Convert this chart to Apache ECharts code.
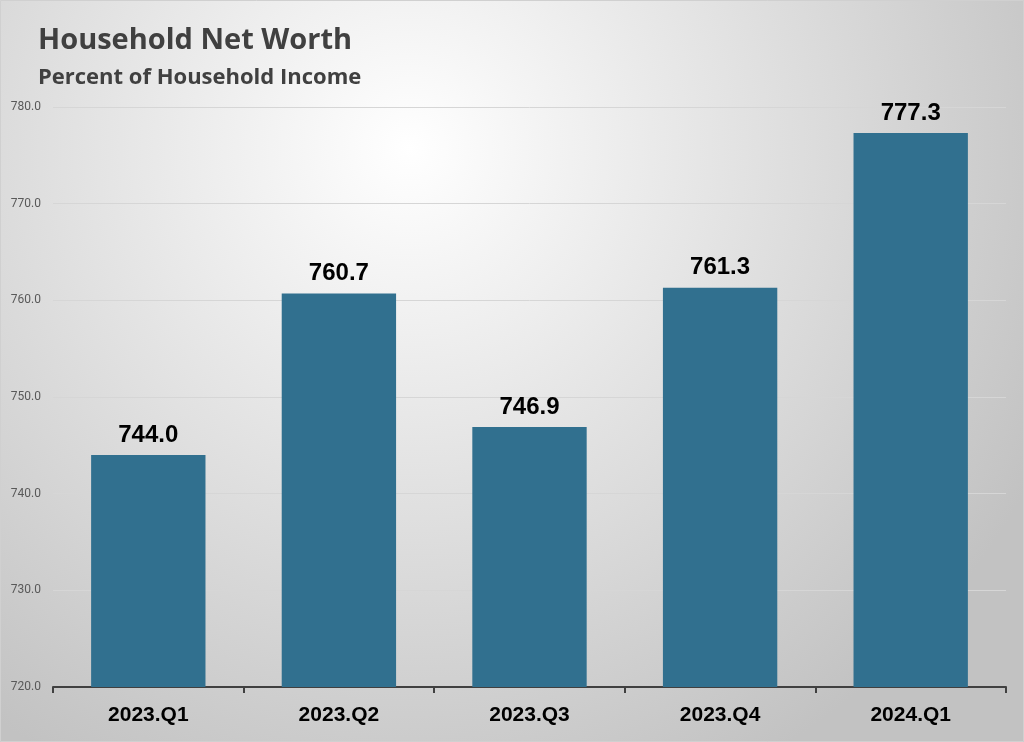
<!DOCTYPE html>
<html><head><meta charset="utf-8">
<script src="https://cdn.jsdelivr.net/npm/echarts@6/dist/echarts.min.js"></script>
<style>html,body{margin:0;padding:0;}#c{width:1024px;height:742px;}</style>
</head><body><div id="c"></div>
<script>
const categories = ['2023.Q1','2023.Q2','2023.Q3','2023.Q4','2024.Q1'];
const values = [744.0, 760.7, 746.9, 761.3, 777.3];
const yMin = 720, yMax = 780, yStep = 10;
const titleText = 'Household Net Worth';
const subtitleText = 'Percent of Household Income';

const chart = echarts.init(document.getElementById('c'));
chart.setOption({
  animation: false,
  backgroundColor: {
    type: 'radial', x: 0.4, y: 0.2, r: 0.95,
    colorStops: [{offset: 0, color: '#ffffff'}, {offset: 1, color: '#c2c2c2'}]
  },
  graphic: [{
    type: 'rect', shape: {x: 0.5, y: 0.5, width: 1023, height: 741},
    style: {fill: 'none', stroke: '#d0d0d0', lineWidth: 1}, silent: true
  }],
  title: [
    {text: titleText, left: 33, top: 26, padding: [0,5], textStyle: {fontFamily: 'Open Sans', fontSize: 29, fontWeight: 'bold', color: '#404040'}},
    {text: subtitleText, left: 33, top: 67, padding: [0,5], textStyle: {fontFamily: 'Open Sans', fontSize: 22, fontWeight: 'bold', color: '#404040'}}
  ],
  grid: {left: 53, right: 18, top: 107, bottom: 55},
  xAxis: {
    type: 'category', data: categories,
    axisLine: {lineStyle: {color: '#404040', width: 2}},
    axisTick: {show: true, length: 6, lineStyle: {color: '#404040', width: 2}},
    axisLabel: {fontFamily: 'Liberation Sans', fontSize: 21, fontWeight: 'bold', color: '#000', margin: 18}
  },
  yAxis: {
    type: 'value', min: yMin, max: yMax, interval: yStep,
    axisLine: {show: false}, axisTick: {show: false},
    axisLabel: {fontFamily: 'Roboto', fontSize: 12, color: '#595959', margin: 12,
      formatter: v => v.toFixed(1)},
    splitLine: {lineStyle: {color: '#d6d6d6', width: 1}}
  },
  series: [{
    type: 'bar', data: values, barWidth: '60%',
    itemStyle: {color: '#31708f'},
    label: {show: true, position: 'top', distance: 8, fontFamily: 'Liberation Sans', fontSize: 24, fontWeight: 'bold', color: '#000',
      formatter: p => p.value.toFixed(1)}
  }]
});
</script></body></html>
